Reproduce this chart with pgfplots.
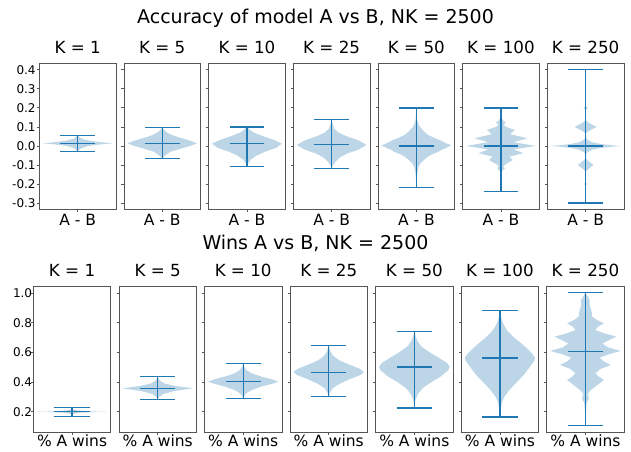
\documentclass[border=0pt]{standalone}
\usepackage{pgfplots}
\pgfplotsset{compat=1.18}
\usepackage{pgfplotstable}
\usepackage{fontspec}
\setmainfont{DejaVu Sans}
\definecolor{c0}{HTML}{1F77B4}
\definecolor{c0l}{HTML}{BCD6E8}
\definecolor{axgray}{HTML}{555555}

% ---- top row: accuracy difference A - B ----
\pgfplotstableread{
y w
-0.030 0.000
-0.020 0.010
-0.010 0.030
0.000 0.080
0.008 0.160
0.014 0.250
0.020 0.160
0.028 0.080
0.038 0.030
0.048 0.010
0.056 0.000
}\tA
\pgfplotstableread{
y w
-0.067 0.000
-0.050 0.020
-0.030 0.060
-0.010 0.150
0.000 0.200
0.014 0.250
0.030 0.190
0.045 0.120
0.060 0.060
0.075 0.025
0.090 0.008
0.098 0.000
}\tB
\pgfplotstableread{
y w
-0.107 0.000
-0.090 0.010
-0.070 0.030
-0.050 0.070
-0.030 0.130
-0.010 0.210
0.012 0.250
0.030 0.200
0.050 0.120
0.070 0.050
0.085 0.020
0.100 0.000
}\tC
\pgfplotstableread{
y w
-0.119 0.000
-0.100 0.010
-0.080 0.030
-0.060 0.060
-0.040 0.110
-0.020 0.190
0.005 0.250
0.030 0.190
0.050 0.110
0.070 0.050
0.090 0.020
0.110 0.010
0.140 0.000
}\tD
\pgfplotstableread{
y w
-0.217 0.000
-0.150 0.005
-0.110 0.015
-0.090 0.030
-0.070 0.060
-0.055 0.085
-0.045 0.110
-0.030 0.160
-0.020 0.180
-0.012 0.210
-0.005 0.225
0.002 0.250
0.008 0.235
0.015 0.210
0.030 0.170
0.045 0.120
0.060 0.080
0.080 0.050
0.100 0.025
0.120 0.012
0.140 0.005
0.200 0.000
}\tE
\pgfplotstableread{
y w
-0.240 0.000
-0.140 0.004
-0.125 0.015
-0.117 0.028
-0.108 0.015
-0.095 0.035
-0.074 0.085
-0.056 0.060
-0.038 0.160
-0.018 0.090
0.000 0.250
0.020 0.090
0.040 0.190
0.062 0.065
0.084 0.100
0.102 0.030
0.113 0.020
0.124 0.035
0.134 0.015
0.150 0.004
0.200 0.000
}\tF
\pgfplotstableread{
y w
-0.300 0.000
-0.210 0.000
-0.200 0.010
-0.190 0.000
-0.135 0.000
-0.120 0.020
-0.100 0.056
-0.080 0.020
-0.065 0.000
-0.035 0.008
-0.020 0.045
-0.010 0.110
-0.004 0.185
0.000 0.250
0.004 0.185
0.010 0.110
0.020 0.045
0.035 0.008
0.065 0.000
0.080 0.025
0.100 0.080
0.120 0.025
0.135 0.000
0.190 0.000
0.200 0.015
0.210 0.000
0.400 0.000
}\tG

% ---- bottom row: share of A wins ----
\pgfplotstableread{
y w
0.169 0.000
0.185 0.010
0.193 0.050
0.198 0.150
0.200 0.250
0.202 0.150
0.207 0.050
0.215 0.010
0.230 0.000
}\bA
\pgfplotstableread{
y w
0.281 0.000
0.300 0.010
0.320 0.040
0.340 0.120
0.358 0.250
0.375 0.120
0.390 0.050
0.410 0.015
0.436 0.000
}\bB
\pgfplotstableread{
y w
0.288 0.000
0.310 0.010
0.330 0.030
0.350 0.070
0.370 0.130
0.390 0.210
0.403 0.250
0.420 0.200
0.440 0.120
0.460 0.060
0.480 0.025
0.500 0.010
0.524 0.000
}\bC
\pgfplotstableread{
y w
0.304 0.000
0.330 0.010
0.360 0.030
0.390 0.080
0.420 0.150
0.450 0.230
0.468 0.250
0.490 0.220
0.520 0.140
0.550 0.070
0.580 0.030
0.610 0.012
0.646 0.000
}\bD
\pgfplotstableread{
y w
0.225 0.000
0.280 0.008
0.320 0.025
0.360 0.060
0.400 0.120
0.440 0.190
0.480 0.240
0.505 0.250
0.530 0.230
0.560 0.180
0.600 0.110
0.640 0.050
0.680 0.020
0.720 0.006
0.741 0.000
}\bE
\pgfplotstableread{
y w
0.164 0.000
0.220 0.006
0.260 0.012
0.300 0.030
0.350 0.070
0.400 0.120
0.450 0.170
0.500 0.210
0.540 0.240
0.565 0.250
0.590 0.230
0.630 0.190
0.670 0.140
0.710 0.090
0.750 0.050
0.790 0.025
0.830 0.010
0.882 0.000
}\bF
\pgfplotstableread{
y w
0.105 0.000
0.200 0.003
0.260 0.008
0.280 0.020
0.290 0.025
0.300 0.020
0.320 0.015
0.340 0.030
0.370 0.070
0.414 0.130
0.440 0.090
0.460 0.070
0.490 0.110
0.516 0.180
0.540 0.130
0.565 0.100
0.590 0.170
0.610 0.250
0.635 0.160
0.660 0.120
0.685 0.170
0.707 0.220
0.730 0.130
0.752 0.070
0.775 0.090
0.797 0.130
0.820 0.080
0.845 0.045
0.865 0.045
0.890 0.040
0.920 0.030
0.955 0.030
0.980 0.015
1.004 0.000
}\bG

% #1 table, #2 min, #3 mean, #4 max
\newcommand{\violin}[4]{%
  \addplot[fill=c0l, draw=none] table[x expr={1+\thisrow{w}}, y=y] {#1} -- cycle;
  \addplot[fill=c0l, draw=none] table[x expr={1-\thisrow{w}}, y=y] {#1} -- cycle;
  \addplot[c0, line width=1.3pt] coordinates {(1,#2) (1,#4)};
  \addplot[c0, line width=1.3pt] coordinates {(0.875,#2) (1.125,#2)};
  \addplot[c0, line width=1.3pt] coordinates {(0.875,#3) (1.125,#3)};
  \addplot[c0, line width=1.3pt] coordinates {(0.875,#4) (1.125,#4)};
}

\pgfplotsset{
  vstyle/.style={
    scale only axis, anchor=south west,
    xmin=0.725, xmax=1.275, xtick={1},
    tick align=outside, major tick length=2.5pt,
    xtick pos=left, ytick pos=left,
    axis line style={draw=axgray, line width=0.8pt},
    tick style={draw=axgray, line width=0.8pt},
    title style={at={(0.5,1)}, anchor=base, yshift=4pt, inner sep=0pt,
      font=\fontsize{16.7}{18}\selectfont},
    yticklabel style={font=\fontsize{12}{14}\selectfont, inner sep=0pt},
    xticklabel style={font=\fontsize{15.5}{17}\selectfont, anchor=base, inner sep=0pt},
    /pgf/number format/assume math mode=true,
  },
  toprow/.style={vstyle, at={(#1pt,-209pt)}, width=76.7pt, height=145.7pt,
    ymin=-0.331, ymax=0.434,
    ytick={-0.3,-0.2,-0.1,0,0.1,0.2,0.3,0.4}, yticklabels={},
    xticklabels={A - B},
    xticklabel style={yshift=-13.5pt},
    yticklabel style={xshift=-1pt}},
  botrow/.style={vstyle, at={(#1pt,-432.3pt)}, width=77.5pt, height=146.3pt,
    ymin=0.061, ymax=1.049,
    ytick={0.2,0.4,0.6,0.8,1.0}, yticklabels={},
    xticklabels={\% A wins},
    xticklabel style={yshift=-11.8pt},
    yticklabel style={xshift=1.5pt}},
}

\begin{document}
\begin{tikzpicture}
\fill[white] (0pt,0pt) rectangle (631pt,-451pt);
\useasboundingbox (0pt,0pt) rectangle (631pt,-451pt);

\node[font=\fontsize{19}{22}\selectfont] at (315.5pt,-18pt) {Accuracy of model A vs B, NK = 2500};
\node[font=\fontsize{19}{22}\selectfont] at (315.5pt,-243pt) {Wins A vs B, NK = 2500};

\begin{axis}[toprow=39.3, title={K = 1}, yticklabels={-0.3,-0.2,-0.1,0.0,0.1,0.2,0.3,0.4}]
\violin{\tA}{-0.030}{0.014}{0.056}
\end{axis}
\begin{axis}[toprow=123.9, title={K = 5}]
\violin{\tB}{-0.067}{0.014}{0.098}
\end{axis}
\begin{axis}[toprow=208.6, title={K = 10}]
\violin{\tC}{-0.107}{0.012}{0.100}
\end{axis}
\begin{axis}[toprow=293.3, title={K = 25}]
\violin{\tD}{-0.119}{0.009}{0.140}
\end{axis}
\begin{axis}[toprow=378.0, title={K = 50}]
\violin{\tE}{-0.217}{0.000}{0.200}
\end{axis}
\begin{axis}[toprow=462.6, title={K = 100}]
\violin{\tF}{-0.240}{0.000}{0.200}
\end{axis}
\begin{axis}[toprow=547.3, title={K = 250}]
\violin{\tG}{-0.300}{0.000}{0.400}
\end{axis}

\begin{axis}[botrow=33.3, title={K = 1}, yticklabels={0.2,0.4,0.6,0.8,1.0}]
\violin{\bA}{0.169}{0.203}{0.230}
\end{axis}
\begin{axis}[botrow=119.0, title={K = 5}]
\violin{\bB}{0.281}{0.358}{0.436}
\end{axis}
\begin{axis}[botrow=204.4, title={K = 10}]
\violin{\bC}{0.288}{0.405}{0.524}
\end{axis}
\begin{axis}[botrow=290.0, title={K = 25}]
\violin{\bD}{0.304}{0.466}{0.646}
\end{axis}
\begin{axis}[botrow=375.6, title={K = 50}]
\violin{\bE}{0.225}{0.502}{0.741}
\end{axis}
\begin{axis}[botrow=461.2, title={K = 100}]
\violin{\bF}{0.164}{0.563}{0.882}
\end{axis}
\begin{axis}[botrow=546.7, title={K = 250}]
\violin{\bG}{0.105}{0.605}{1.004}
\end{axis}
\end{tikzpicture}
\end{document}
